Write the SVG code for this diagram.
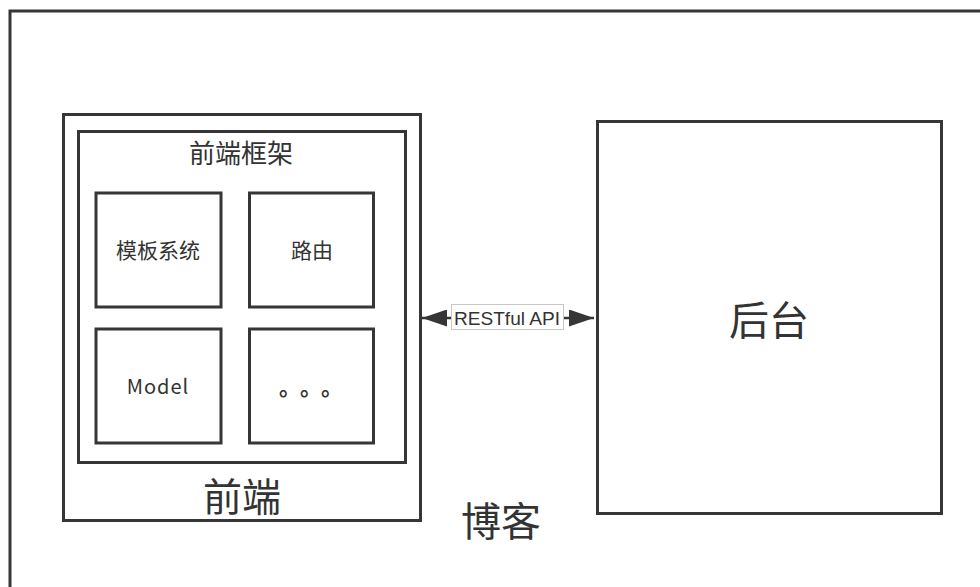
<svg xmlns="http://www.w3.org/2000/svg" width="980" height="587" viewBox="0 0 980 587">
<defs>
<style>
.box{fill:#fff;stroke:#363636;stroke-width:3}
.t{font-family:"Noto Sans CJK SC","Liberation Sans",sans-serif;fill:#333;text-anchor:middle}
.conn{stroke:#363636;stroke-width:2.5;fill:none}
</style>
<marker id="ah" viewBox="0 0 25 17" refX="25" refY="8.5" markerWidth="25" markerHeight="17" markerUnits="userSpaceOnUse" orient="auto-start-reverse">
<path d="M0,0 L25,8.5 L0,17 z" fill="#363636"/>
</marker>
</defs>
<rect width="980" height="587" fill="#fff"/>
<g id="blog">
<rect class="box" x="10" y="11" width="990" height="600"/>
<text class="t" x="501" y="536" font-size="40">博客</text>
</g>
<g id="frontend">
<rect class="box" x="63.5" y="114.5" width="357" height="406"/>
<text class="t" x="242" y="511" font-size="39">前端</text>
</g>
<g id="framework">
<rect class="box" x="78.5" y="131.5" width="327" height="331"/>
<text class="t" x="241" y="163" font-size="26">前端框架</text>
</g>
<g id="template">
<rect class="box" x="96" y="193" width="125" height="114"/>
<text class="t" x="158" y="258" font-size="21">模板系统</text>
</g>
<g id="router">
<rect class="box" x="249.5" y="193" width="124" height="114"/>
<text class="t" x="312" y="258" font-size="21">路由</text>
</g>
<g id="model">
<rect class="box" x="96" y="329" width="125" height="114"/>
<text class="t" x="158" y="394" font-size="20" letter-spacing="1">Model</text>
</g>
<g id="more">
<rect class="box" x="249.5" y="329" width="124" height="114"/>
<text class="t" y="395" font-size="22" font-weight="bold"><tspan x="290">。</tspan><tspan x="311">。</tspan><tspan x="332">。</tspan></text>
</g>
<g id="backend">
<rect class="box" x="597.5" y="121.5" width="344" height="392"/>
<text class="t" x="769" y="335" font-size="40">后台</text>
</g>
<g id="connectors">
<line class="conn" x1="422" y1="318" x2="594" y2="318" marker-start="url(#ah)" marker-end="url(#ah)"/>
<rect x="451.5" y="304.5" width="112" height="25" fill="#fff" stroke="#c8c8c8" stroke-width="1"/>
<text x="507" y="325" font-family="Liberation Sans, sans-serif" font-size="19" fill="#333" text-anchor="middle" textLength="106" lengthAdjust="spacingAndGlyphs">RESTful API</text>
</g>
</svg>
